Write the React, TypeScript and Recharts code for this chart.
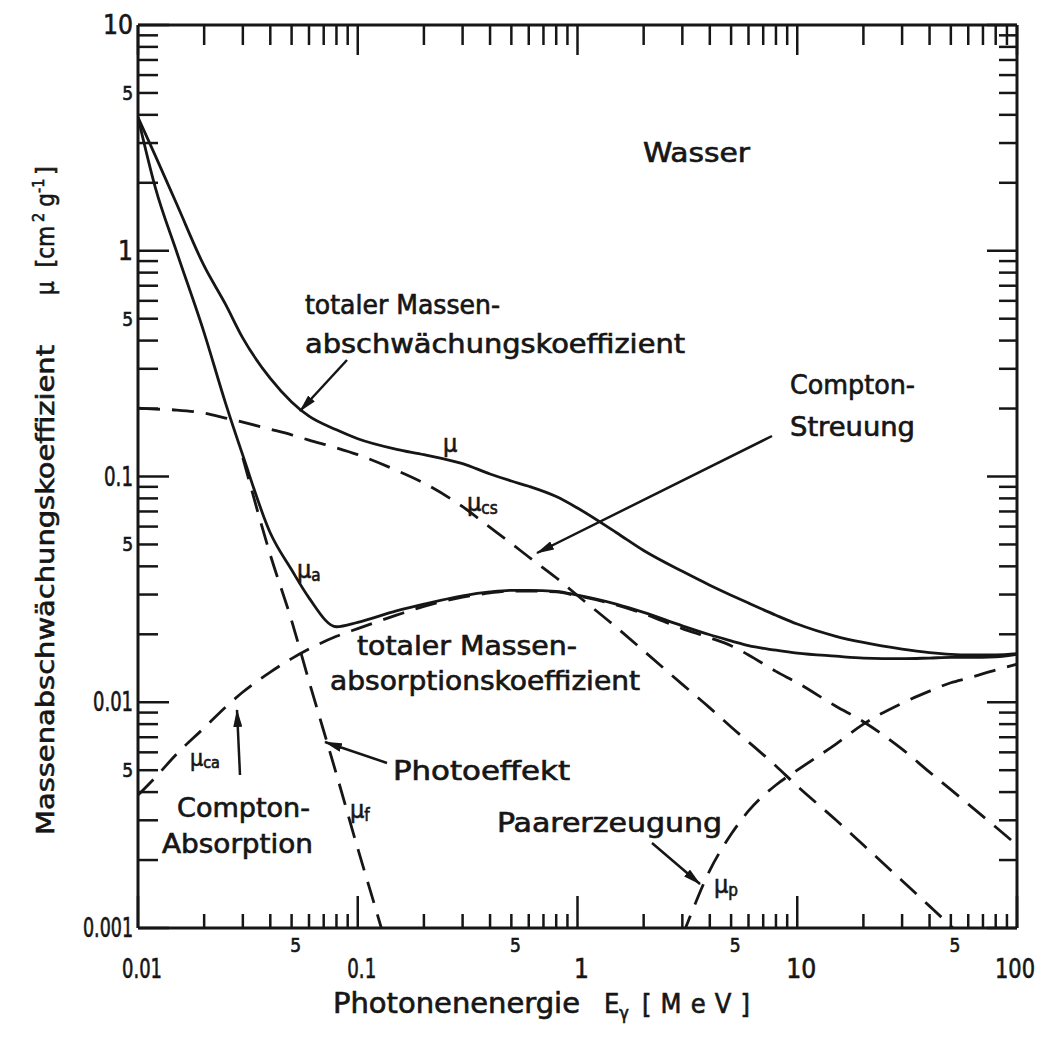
import React from 'react';
import { LineChart, Line, XAxis, YAxis } from 'recharts';

// Wasser: Massenschwächungskoeffizienten
const ENERGY = [0.01, 0.012, 0.015, 0.02, 0.025, 0.03, 0.04, 0.05, 0.06, 0.08, 0.1, 0.12, 0.13, 0.15, 0.2, 0.3, 0.4, 0.5, 0.6, 0.8, 1, 1.5, 2, 3, 3.2, 4, 5, 6, 8, 10, 15, 20, 30, 40, 50, 60, 80, 100];

const MU_TOTAL = [3.9, 2.63, 1.61, 0.856, 0.58, 0.41, 0.272, 0.214, 0.185, 0.161, 0.147, null, null, 0.132, 0.125, 0.114, 0.1026, 0.0955, 0.0905, 0.0815, 0.0725, 0.0565, 0.047, 0.038, null, 0.033, 0.0298, 0.0275, 0.0243, 0.0222, 0.0196, 0.0184, 0.0172, 0.0166, 0.0163, 0.0162, 0.0162, 0.0164];

const MU_ABS = [3.9, 1.9, 0.987, 0.433, 0.212, 0.124, 0.0562, 0.0386, 0.029, 0.0216, 0.0226, null, null, 0.0254, 0.0272, 0.0296, 0.0308, 0.0313, 0.0313, 0.031, 0.0298, 0.0272, 0.025, 0.0218, null, 0.0199, 0.0187, 0.0178, 0.017, 0.0165, 0.016, 0.0157, 0.0156, 0.0157, 0.0158, 0.0158, 0.0159, 0.0163];

const MU_PHOTO = [null, null, null, null, null, 0.121, 0.045, 0.023, 0.0124, 0.0048, 0.00225, 0.00124, 0.00095, null, null, null, null, null, null, null, null, null, null, null, null, null, null, null, null, null, null, null, null, null, null, null, null, null];

const MU_COMPTON_SCATTER = [0.201, 0.199, 0.197, 0.191, 0.1815, 0.174, 0.162, 0.153, 0.145, 0.134, 0.125, null, null, 0.1065, 0.0935, 0.0735, 0.0595, 0.0505, 0.044, 0.0356, 0.0297, 0.0215, 0.0169, 0.012, null, 0.00944, 0.00777, 0.00667, 0.00522, 0.00425, 0.00301, 0.00233, 0.00162, 0.00125, 0.00102, 0.00086, null, null];

const MU_COMPTON_ABS = [0.00388, 0.00465, 0.0059, 0.0077, 0.0095, 0.0111, 0.0136, 0.0156, 0.0172, 0.0196, 0.0212, null, null, 0.0243, 0.0266, 0.0292, 0.0305, 0.0311, 0.0311, 0.0308, 0.0296, 0.027, 0.0247, 0.0212, null, 0.0193, 0.0178, 0.0162, 0.0137, 0.0122, 0.0096, 0.0082, 0.0062, 0.0049, 0.0041, 0.00354, 0.0028, 0.00233];

const MU_PAIR = [null, null, null, null, null, null, null, null, null, null, null, null, null, null, null, null, null, null, null, null, null, null, null, 0.00092, 0.00108, 0.0018, 0.0026, 0.0033, 0.0043, 0.005, 0.00653, 0.008, 0.0099, 0.0112, 0.0122, 0.0128, 0.0139, 0.01475];

const X_TICKS = [0.01, 0.02, 0.03, 0.04, 0.05, 0.06, 0.07, 0.08, 0.09, 0.1, 0.2, 0.3, 0.4, 0.5, 0.6, 0.7, 0.8, 0.9, 1, 2, 3, 4, 5, 6, 7, 8, 9, 10, 20, 30, 40, 50, 60, 70, 80, 90, 100];
const X_LABELS: Record<string, string> = { '0.01': '0.01', '0.05': '5', '0.1': '0.1', '0.5': '5', '1': '1', '5': '5', '10': '10', '50': '5', '100': '100' };

const Y_TICKS = [0.001, 0.002, 0.003, 0.004, 0.005, 0.006, 0.007, 0.008, 0.009, 0.01, 0.02, 0.03, 0.04, 0.05, 0.06, 0.07, 0.08, 0.09, 0.1, 0.2, 0.3, 0.4, 0.5, 0.6, 0.7, 0.8, 0.9, 1, 2, 3, 4, 5, 6, 7, 8, 9, 10];
const Y_LABELS: Record<string, string> = { '0.001': '0.001', '0.005': '5', '0.01': '0.01', '0.05': '5', '0.1': '0.1', '0.5': '5', '1': '1', '5': '5', '10': '10' };

// printed widths of the narrow tick lettering
const LABEL_WIDTH: Record<string, number> = { '0.001': 50, '0.01': 40, '0.1': 29, '10': 30, '100': 40 };

const data = ENERGY.map((e, i) => ({
  e,
  mu: MU_TOTAL[i],
  mua: MU_ABS[i],
  muf: MU_PHOTO[i],
  mucs: MU_COMPTON_SCATTER[i],
  muca: MU_COMPTON_ABS[i],
  mup: MU_PAIR[i],
}));

const INK = '#161616';
const FONT = "'DejaVu Sans Condensed', 'DejaVu Sans', sans-serif";
const W = 1031;
const H = 1034;
const DASH = '22 12';

const isDecade = (v: number) => Math.abs(Math.log10(v) - Math.round(Math.log10(v))) < 1e-9;

// a thin outline makes the lettering as heavy as the scanned original
const txt = { fontFamily: FONT, fontStretch: 'condensed', fill: INK, stroke: INK, strokeWidth: 0.6 } as const;

const fit = (label: string) =>
  LABEL_WIDTH[label] ? { textLength: LABEL_WIDTH[label], lengthAdjust: 'spacingAndGlyphs' as const } : {};

const BottomTick = (props: any) => {
  const { x, y, payload } = props;
  const v = payload.value;
  const major = isDecade(v);
  const label = X_LABELS[String(v)];
  const cx = Math.min(x + 4, W - 24);
  return (
    <g>
      <line x1={x} x2={x} y1={y} y2={y - (major ? 32 : 14)} stroke={INK} strokeWidth={2.5} />
      {label && (
        <text x={cx} y={major ? y + 50 : y + 24} textAnchor="middle" fontSize={major ? 26 : 19} {...fit(label)} {...txt}>
          {label}
        </text>
      )}
    </g>
  );
};

const TopTick = (props: any) => {
  const { x, y, payload } = props;
  const major = isDecade(payload.value);
  return <line x1={x} x2={x} y1={y} y2={y + (major ? 30 : 20)} stroke={INK} strokeWidth={2.5} />;
};

const LeftTick = (props: any) => {
  const { x, y, payload } = props;
  const v = payload.value;
  const major = isDecade(v);
  const label = Y_LABELS[String(v)];
  const w = LABEL_WIDTH[label];
  return (
    <g>
      <line x1={x} x2={x + (major ? 31 : 20)} y1={y} y2={y} stroke={INK} strokeWidth={2.5} />
      {label && (
        <text
          x={w ? x - 5 - w : x - 5}
          y={y + (major ? 9 : 7)}
          textAnchor={w ? 'start' : 'end'}
          fontSize={major ? 26 : 19}
          {...fit(label)}
          {...txt}
        >
          {label}
        </text>
      )}
    </g>
  );
};

const RightTick = (props: any) => {
  const { x, y, payload } = props;
  const major = isDecade(payload.value);
  return <line x1={x} x2={x - (major ? 30 : 18)} y1={y} y2={y} stroke={INK} strokeWidth={2.5} />;
};

function Notes() {
  return (
    <svg width={W} height={H} style={{ position: 'absolute', left: 0, top: 0, pointerEvents: 'none' }}>
      <defs>
        <marker id="head" viewBox="0 0 18 9" refX="17" refY="4.5" markerWidth="18" markerHeight="9" markerUnits="userSpaceOnUse" orient="auto">
          <path d="M0,0 L18,4.5 L0,9 z" fill={INK} />
        </marker>
      </defs>
      <g stroke={INK} strokeWidth={2.5} fill="none">
        <line x1={339} y1={352} x2={292} y2={403} markerEnd="url(#head)" />
        <line x1={764} y1={428} x2={529} y2={545} markerEnd="url(#head)" />
        <line x1={232} y1={767} x2={229} y2={702} markerEnd="url(#head)" />
        <line x1={379} y1={755} x2={317} y2={734} markerEnd="url(#head)" />
        <line x1={644} y1={835} x2={692} y2={876} markerEnd="url(#head)" />
      </g>

      <text x={635} y={154} fontSize={27} textLength={107} lengthAdjust="spacingAndGlyphs" {...txt}>Wasser</text>

      <text x={297} y={306} fontSize={26} textLength={195} lengthAdjust="spacingAndGlyphs" {...txt}>totaler Massen-</text>
      <text x={297} y={345} fontSize={26} textLength={380} lengthAdjust="spacingAndGlyphs" {...txt}>abschwächungskoeffizient</text>

      <text x={435} y={444} fontSize={25} {...txt}>μ</text>
      <text x={459} y={503} fontSize={25} {...txt}>μ<tspan fontSize={17} dy={3}>cs</tspan></text>

      <text x={782} y={386} fontSize={26} textLength={125} lengthAdjust="spacingAndGlyphs" {...txt}>Compton-</text>
      <text x={782} y={428} fontSize={26} textLength={125} lengthAdjust="spacingAndGlyphs" {...txt}>Streuung</text>

      <text x={289} y={570} fontSize={25} {...txt}>μ<tspan fontSize={17} dy={3}>a</tspan></text>

      <text x={349} y={647} fontSize={26} textLength={220} lengthAdjust="spacingAndGlyphs" {...txt}>totaler Massen-</text>
      <text x={322} y={682} fontSize={26} textLength={310} lengthAdjust="spacingAndGlyphs" {...txt}>absorptionskoeffizient</text>

      <text x={182} y={758} fontSize={23} {...txt}>μ<tspan fontSize={16} dy={2}>ca</tspan></text>
      <text x={169} y={809} fontSize={26} textLength={133} lengthAdjust="spacingAndGlyphs" {...txt}>Compton-</text>
      <text x={154} y={845} fontSize={26} textLength={151} lengthAdjust="spacingAndGlyphs" {...txt}>Absorption</text>

      <text x={342} y={810} fontSize={25} {...txt}>μ<tspan fontSize={17} dy={3}>f</tspan></text>
      <text x={385} y={772} fontSize={26} textLength={177} lengthAdjust="spacingAndGlyphs" {...txt}>Photoeffekt</text>

      <text x={489} y={824} fontSize={26} textLength={225} lengthAdjust="spacingAndGlyphs" {...txt}>Paarerzeugung</text>
      <text x={706} y={885} fontSize={25} {...txt}>μ<tspan fontSize={17} dy={3}>p</tspan></text>

      <text x={325} y={1005} fontSize={28} textLength={247} lengthAdjust="spacingAndGlyphs" {...txt}>Photonenenergie</text>
      <text x={596} y={1005} fontSize={27} {...txt}>E<tspan fontSize={18} dy={6}>γ</tspan></text>
      <text x={634} y={1005} fontSize={27} textLength={108} lengthAdjust="spacing" {...txt}>[MeV]</text>

      <g transform="translate(46, 827) rotate(-90)">
        <text x={0} y={0} fontSize={25} textLength={490} lengthAdjust="spacingAndGlyphs" {...txt}>Massenabschwächungskoeffizient</text>
        <text x={540} y={0} fontSize={24} {...txt}>
          μ
          <tspan dx={14}>[cm</tspan>
          <tspan fontSize={16} dx={4} dy={-10}>2</tspan>
          <tspan dx={6} dy={10}>g</tspan>
          <tspan fontSize={16} dy={-10}>-1</tspan>
          <tspan dx={4} dy={10}>]</tspan>
        </text>
      </g>
    </svg>
  );
}

export default function App() {
  return (
    <div style={{ position: 'relative', width: W, height: H, background: '#fff' }}>
      <LineChart width={W} height={H} data={data} margin={{ top: 7, right: 12, bottom: 74, left: 80 }}>
        <XAxis
          dataKey="e"
          type="number"
          scale="log"
          domain={[0.01, 100]}
          allowDataOverflow
          ticks={X_TICKS}
          interval={0}
          tickSize={0}
          tickMargin={0}
          tickLine={false}
          tick={BottomTick}
          axisLine={{ stroke: INK, strokeWidth: 3 }}
          height={40}
        />
        <XAxis
          xAxisId="top"
          orientation="top"
          dataKey="e"
          type="number"
          scale="log"
          domain={[0.01, 100]}
          allowDataOverflow
          ticks={X_TICKS}
          interval={0}
          tickSize={0}
          tickMargin={0}
          tickLine={false}
          tick={TopTick}
          axisLine={{ stroke: INK, strokeWidth: 3 }}
          height={10}
        />
        <YAxis
          type="number"
          scale="log"
          domain={[0.001, 10]}
          allowDataOverflow
          ticks={Y_TICKS}
          interval={0}
          tickSize={0}
          tickMargin={0}
          tickLine={false}
          tick={LeftTick}
          axisLine={{ stroke: INK, strokeWidth: 3 }}
          width={50}
        />
        <YAxis
          yAxisId="right"
          orientation="right"
          type="number"
          scale="log"
          domain={[0.001, 10]}
          allowDataOverflow
          ticks={Y_TICKS}
          interval={0}
          tickSize={0}
          tickMargin={0}
          tickLine={false}
          tick={RightTick}
          axisLine={{ stroke: INK, strokeWidth: 3 }}
          width={10}
        />
        <Line type="monotone" dataKey="mu" stroke={INK} strokeWidth={2.8} dot={false} connectNulls isAnimationActive={false} />
        <Line type="monotone" dataKey="mua" stroke={INK} strokeWidth={2.8} dot={false} connectNulls isAnimationActive={false} />
        <Line type="monotone" dataKey="muf" stroke={INK} strokeWidth={2.8} strokeDasharray={DASH} dot={false} connectNulls isAnimationActive={false} />
        <Line type="monotone" dataKey="mucs" stroke={INK} strokeWidth={2.8} strokeDasharray={DASH} dot={false} connectNulls isAnimationActive={false} />
        <Line type="monotone" dataKey="muca" stroke={INK} strokeWidth={2.8} strokeDasharray={DASH} dot={false} connectNulls isAnimationActive={false} />
        <Line type="monotone" dataKey="mup" stroke={INK} strokeWidth={2.8} strokeDasharray={DASH} dot={false} connectNulls isAnimationActive={false} />
      </LineChart>
      <Notes />
    </div>
  );
}
